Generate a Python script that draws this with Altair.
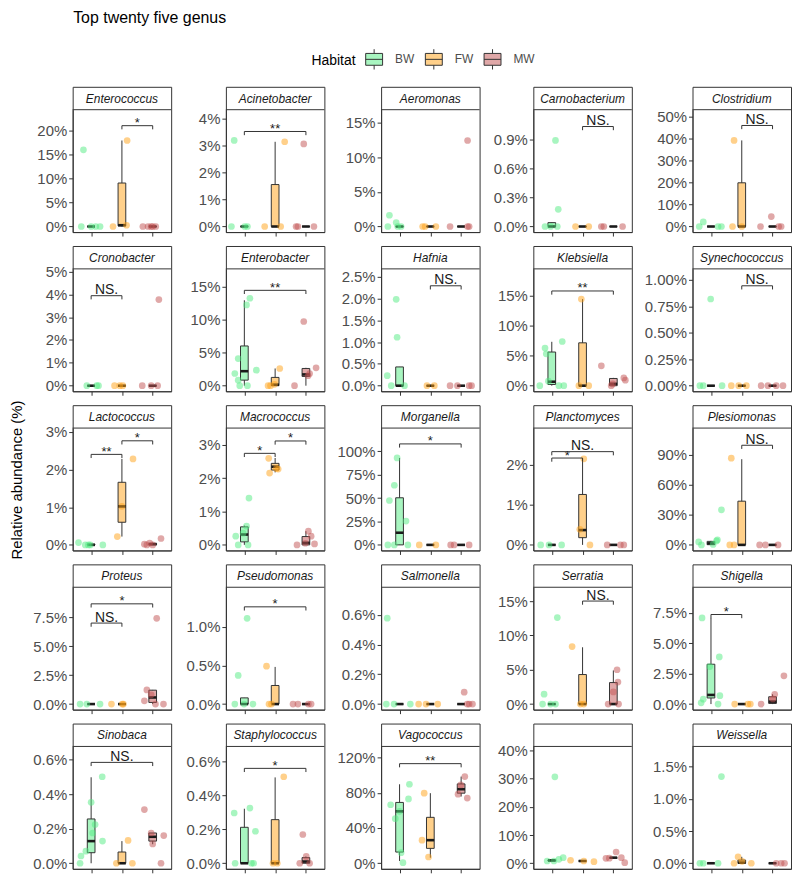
import altair as alt
import pandas as pd

HABITATS = ["BW", "FW", "MW"]
POINT_COLORS = ["#51EB81", "#FFA115", "#C15151"]
BOX_COLORS = ["#A8F5C0", "#FFD08A", "#E0A8A8"]

GENUS = ["Enterococcus", "Acinetobacter", "Aeromonas", "Carnobacterium", "Clostridium",
         "Cronobacter", "Enterobacter", "Hafnia", "Klebsiella", "Synechococcus",
         "Lactococcus", "Macrococcus", "Morganella", "Planctomyces", "Plesiomonas",
         "Proteus", "Pseudomonas", "Salmonella", "Serratia", "Shigella",
         "Sinobaca", "Staphylococcus", "Vagococcus", "", "Weissella"]

# upper end of each panel's data range (%)
Y_TOP = [23.28, 4.11, 16.06, 1.146, 50.65,
         4.87, 16.8, 2.55, 18.5, 1.05,
         2.95, 3.33, 119, 2.78, 111,
         9.6, 1.437, 0.747, 16.2, 9.13,
         0.643, 0.653, 126.2, 39.5, 1.727]

Y_TICKS = [[0, 5, 10, 15, 20], [0, 1, 2, 3, 4], [0, 5, 10, 15], [0, 0.3, 0.6, 0.9], [0, 10, 20, 30, 40, 50],
           [0, 1, 2, 3, 4, 5], [0, 5, 10, 15], [0, 0.5, 1, 1.5, 2, 2.5], [0, 5, 10, 15], [0, 0.25, 0.5, 0.75, 1],
           [0, 1, 2, 3], [0, 1, 2, 3], [0, 25, 50, 75, 100], [0, 1, 2], [0, 30, 60, 90],
           [0, 2.5, 5, 7.5], [0, 0.5, 1], [0, 0.2, 0.4, 0.6], [0, 5, 10, 15], [0, 2.5, 5, 7.5],
           [0, 0.2, 0.4, 0.6], [0, 0.2, 0.4, 0.6], [0, 40, 80, 120], [0, 10, 20, 30, 40], [0, 0.5, 1, 1.5]]

Y_DECIMALS = [0, 0, 0, 1, 0,
              0, 0, 1, 0, 2,
              0, 0, 0, 0, 0,
              1, 1, 1, 0, 1,
              1, 1, 0, 0, 1]

# samples: (habitat, relative abundance %, horizontal jitter)
PTS_ENTEROCOCCUS = [("BW", 16.05, -0.25), ("BW", 0, -0.32), ("BW", 0, 0.15), ("BW", 0, 0.29), ("BW", 0, 0.0),
                    ("FW", 0, -0.29), ("FW", 18.0, 0.17), ("FW", 0.27, 0.15),
                    ("MW", 0, -0.32), ("MW", 0, -0.15), ("MW", 0, -0.05), ("MW", 0, 0.1), ("MW", 0, 0.0)]
PTS_ACINETOBACTER = [("BW", 3.18, -0.33), ("BW", 0, -0.42), ("BW", 0, 0.01), ("BW", 0, 0.1),
                     ("FW", 0, -0.34), ("FW", 3.13, 0.31), ("FW", 0, 0.18),
                     ("MW", 3.05, -0.07), ("MW", 0, -0.32), ("MW", 0, -0.26), ("MW", 0, 0.26)]
PTS_AEROMONAS = [("BW", 1.62, -0.33), ("BW", 0.57, -0.11), ("BW", 0, -0.38), ("BW", 0, -0.06), ("BW", 0, 0.05),
                 ("FW", 0, -0.25), ("FW", 0, -0.17), ("FW", 0, 0.18),
                 ("MW", 0, -0.36), ("MW", 0, 0.21), ("MW", 0, 0.26), ("MW", 12.42, 0.21)]
PTS_CARNOBACTERIUM = [("BW", 0.887, 0.12), ("BW", 0.177, 0.21), ("BW", 0, -0.22), ("BW", 0, -0.04), ("BW", 0, 0.18),
                      ("FW", 0, -0.23), ("FW", 0, 0.2),
                      ("MW", 0, -0.39), ("MW", 0, -0.31), ("MW", 0, 0.3)]
PTS_CLOSTRIDIUM = [("BW", 2.1, -0.25), ("BW", 0, -0.38), ("BW", 0, 0.23), ("BW", 0, 0.34),
                   ("FW", 39.2, -0.25), ("FW", 0, -0.3), ("FW", 0, 0.0),
                   ("MW", 0, -0.39), ("MW", 4.5, -0.04), ("MW", 0, 0.28), ("MW", 0, 0.2)]
PTS_CRONOBACTER = [("BW", 0, -0.14), ("BW", 0, 0.18), ("BW", 0, 0.24),
                   ("FW", 0, -0.24), ("FW", 0, -0.07), ("FW", 0, 0.03),
                   ("MW", 0, -0.34), ("MW", 0, -0.05), ("MW", 0, 0.16), ("MW", 3.77, 0.2)]
PTS_ENTEROBACTER = [("BW", 13.2, 0.18), ("BW", 12.2, 0.07), ("BW", 4.1, -0.2), ("BW", 1.84, -0.31), ("BW", 0.84, -0.2),
                    ("BW", 2.34, 0.39), ("BW", 0, -0.15), ("BW", 0, 0.1),
                    ("FW", 2.6, 0.15), ("FW", 0, -0.23), ("FW", 0, -0.15), ("FW", 0.2, -0.02),
                    ("MW", 9.7, -0.07), ("MW", 2.7, 0.33), ("MW", 0, -0.37), ("MW", 1.5, 0.07), ("MW", 1.84, 0.12)]
PTS_HAFNIA = [("BW", 1.98, -0.11), ("BW", 1.11, -0.08), ("BW", 0.23, -0.4), ("BW", 0, -0.27), ("BW", 0, 0.16),
              ("FW", 0, -0.11), ("FW", 0, 0.13),
              ("MW", 0, -0.36), ("MW", 0, -0.12), ("MW", 0, 0.26), ("MW", 0, 0.34)]
PTS_KLEBSIELLA = [("BW", 6.26, -0.22), ("BW", 5.3, -0.18), ("BW", 7.35, 0.34), ("BW", 0, -0.39), ("BW", 0.76, -0.11),
                  ("BW", 0, 0.23), ("BW", 0, 0.39),
                  ("FW", 14.4, -0.04), ("FW", 0, -0.12), ("FW", 0, 0.2),
                  ("MW", 3.3, -0.39), ("MW", 1.3, 0.34), ("MW", 0.92, 0.39), ("MW", 0, -0.07), ("MW", 0.3, -0.02)]
PTS_SYNECHOCOCCUS = [("BW", 0.818, -0.01), ("BW", 0, -0.36), ("BW", 0, -0.25), ("BW", 0, 0.36),
                     ("FW", 0, -0.34), ("FW", 0, -0.1), ("FW", 0, 0.15),
                     ("MW", 0, -0.37), ("MW", 0, -0.15), ("MW", 0, 0.12), ("MW", 0, 0.34)]
PTS_LACTOCOCCUS = [("BW", 0.06, -0.41), ("BW", 0, -0.19), ("BW", 0, -0.09), ("BW", 0, -0.03), ("BW", 0, 0.38),
                   ("FW", 2.28, 0.36), ("FW", 0.22, -0.15), ("FW", 1.02, 0.0),
                   ("MW", 0.02, -0.27), ("MW", 0, -0.19), ("MW", 0, 0.0), ("MW", 0.17, 0.27), ("MW", 0.05, -0.1)]
PTS_MACROCOCCUS = [("BW", 1.4, 0.15), ("BW", 0.26, -0.28), ("BW", 0.56, 0.07), ("BW", 0, -0.2), ("BW", 0, 0.12),
                   ("BW", 0.35, -0.04),
                   ("FW", 2.59, -0.21), ("FW", 2.15, -0.18), ("FW", 2.29, 0.04), ("FW", 2.27, 0.1),
                   ("MW", 0, -0.29), ("MW", 0.41, 0.08), ("MW", 0.26, 0.17), ("MW", 0.03, 0.28), ("MW", 0.05, -0.02)]
PTS_MORGANELLA = [("BW", 93, -0.08), ("BW", 47.5, -0.33), ("BW", 63.8, -0.17), ("BW", 25.5, 0.21), ("BW", 0, -0.38),
                  ("BW", 0, -0.17), ("BW", 0, 0.27),
                  ("FW", 0, -0.36), ("FW", 0, 0.18),
                  ("MW", 0, -0.34), ("MW", 0, -0.23), ("MW", 0, 0.26)]
PTS_PLANCTOMYCES = [("BW", 0, -0.36), ("BW", 0, -0.09), ("BW", 0, 0.32),
                    ("FW", 2.15, 0.04), ("FW", 0.39, -0.09), ("FW", 0, 0.24),
                    ("MW", 0, -0.2), ("MW", 0, 0.34), ("MW", 0, 0.23)]
PTS_PLESIOMONAS = [("BW", 35, 0.34), ("BW", 4, 0.18), ("BW", 3, -0.4), ("BW", 0, -0.31), ("BW", 0.5, 0.07), ("BW", 5, 0.21),
                   ("FW", 86.5, -0.34), ("FW", 0, -0.39), ("FW", 0, -0.25),
                   ("MW", 0, -0.42), ("MW", 0, -0.23), ("MW", 0, 0.18)]
PTS_PROTEUS = [("BW", 0, -0.36), ("BW", 0, -0.14), ("BW", 0, 0.29),
               ("FW", 0, -0.34), ("FW", 0, 0.01), ("FW", 0, 0.05),
               ("MW", 7.4, 0.13), ("MW", 1.22, -0.19), ("MW", 0.28, -0.27), ("MW", 0, 0.09), ("MW", 0, 0.35),
               ("MW", 0.8, -0.05)]
PTS_PSEUDOMONAS = [("BW", 1.107, 0.09), ("BW", 0.37, -0.2), ("BW", 0, -0.31), ("BW", 0, -0.01), ("BW", 0, 0.28),
                   ("FW", 0.49, -0.28), ("FW", 0, -0.12), ("FW", 0, -0.2),
                   ("MW", 0, -0.42), ("MW", 0, -0.26), ("MW", 0, 0.08), ("MW", 0, 0.17)]
PTS_SALMONELLA = [("BW", 0.577, -0.4), ("BW", 0, -0.43), ("BW", 0, -0.18), ("BW", 0, 0.35),
                  ("FW", 0, -0.38), ("FW", 0, -0.14), ("FW", 0, 0.24),
                  ("MW", 0.08, 0.1), ("MW", 0, 0.26), ("MW", 0, 0.37), ("MW", 0, 0.2)]
PTS_SERRATIA = [("BW", 12.6, 0.18), ("BW", 1.44, -0.25), ("BW", 0, -0.3), ("BW", 0, -0.04), ("BW", 0, 0.12),
                ("FW", 8.37, -0.34), ("FW", 0, -0.07), ("FW", 0, 0.04),
                ("MW", 5.0, 0.12), ("MW", 3.2, 0.15), ("MW", 0, -0.17), ("MW", 0, 0.17), ("MW", 1.77, 0.0)]
PTS_SHIGELLA = [("BW", 7.07, -0.29), ("BW", 3.87, 0.27), ("BW", 3.08, -0.04), ("BW", 0.69, 0.29), ("BW", 0.4, -0.25),
                ("BW", 0, 0.23), ("BW", 0.1, -0.32),
                ("FW", 0, -0.23), ("FW", 0, 0.2), ("FW", 0, 0.28),
                ("MW", 2.32, 0.37), ("MW", 0, -0.37), ("MW", 0.42, 0.01), ("MW", 0.8, 0.07)]
PTS_SINOBACA = [("BW", 0.5, 0.36), ("BW", 0.352, 0.0), ("BW", 0.224, 0.13), ("BW", 0.128, 0.37), ("BW", 0.042, -0.33),
                ("BW", 0.07, -0.17), ("BW", 0, -0.36), ("BW", 0.175, 0.05),
                ("FW", 0.132, 0.2), ("FW", 0, -0.18), ("FW", 0, 0.34),
                ("MW", 0.31, -0.27), ("MW", 0.16, 0.36), ("MW", 0.112, 0.0), ("MW", 0, 0.27), ("MW", 0.175, -0.05)]
PTS_STAPHYLOCOCCUS = [("BW", 0.295, -0.33), ("BW", 0.324, 0.18), ("BW", 0.188, 0.36), ("BW", 0, -0.3), ("BW", 0, 0.23),
                      ("BW", 0, 0.3),
                      ("FW", 0.508, 0.28), ("FW", 0, -0.07), ("FW", 0, 0.07),
                      ("MW", 0.169, -0.1), ("MW", 0, -0.2), ("MW", 0.04, 0.01), ("MW", 0, 0.12)]
PTS_VAGOCOCCUS = [("BW", 89.6, 0.32), ("BW", 73, 0.29), ("BW", 66.4, -0.29), ("BW", 50.6, -0.14), ("BW", 12, 0.05),
                  ("BW", 0.7, 0.11), ("BW", 58.9, 0.0),
                  ("FW", 79.5, -0.2), ("FW", 26.2, -0.27), ("FW", 7.1, -0.06),
                  ("MW", 98.3, 0.12), ("MW", 73.9, 0.2), ("MW", 78.4, -0.1), ("MW", 88.9, -0.01)]
PTS_UNNAMED = [("BW", 30.7, 0.1), ("BW", 0.8, -0.15), ("BW", 0.8, 0.07), ("BW", 1.4, 0.23), ("BW", 2.0, 0.37),
               ("FW", 1.06, -0.39), ("FW", 0.56, 0.37), ("FW", 0.8, 0.04),
               ("MW", 4.0, 0.09), ("MW", 2.0, 0.26), ("MW", 1.76, -0.24), ("MW", 0.2, 0.37), ("MW", 1.8, -0.13)]
PTS_WEISSELLA = [("BW", 1.345, 0.34), ("BW", 0, -0.36), ("BW", 0, -0.25), ("BW", 0, 0.23),
                 ("FW", 0.1, -0.12), ("FW", 0, -0.25), ("FW", 0, 0.31), ("FW", 0.03, 0.01),
                 ("MW", 0, 0.12), ("MW", 0, 0.28), ("MW", 0, 0.39)]

POINTS = [PTS_ENTEROCOCCUS, PTS_ACINETOBACTER, PTS_AEROMONAS, PTS_CARNOBACTERIUM, PTS_CLOSTRIDIUM,
          PTS_CRONOBACTER, PTS_ENTEROBACTER, PTS_HAFNIA, PTS_KLEBSIELLA, PTS_SYNECHOCOCCUS,
          PTS_LACTOCOCCUS, PTS_MACROCOCCUS, PTS_MORGANELLA, PTS_PLANCTOMYCES, PTS_PLESIOMONAS,
          PTS_PROTEUS, PTS_PSEUDOMONAS, PTS_SALMONELLA, PTS_SERRATIA, PTS_SHIGELLA,
          PTS_SINOBACA, PTS_STAPHYLOCOCCUS, PTS_VAGOCOCCUS, PTS_UNNAMED, PTS_WEISSELLA]

ZERO = (0, 0, 0, 0, 0)
# box statistics per panel: BW, FW, MW -> (lower whisker, q1, median, q3, upper whisker)
BOXES = [
    [ZERO, (0, 0.13, 0.27, 9.1, 18.0), ZERO],
    [ZERO, (0, 0, 0, 1.55, 3.13), ZERO],
    [ZERO, ZERO, ZERO],
    [(0, 0, 0, 0.04, 0.04), ZERO, ZERO],
    [ZERO, (0, 0, 0, 19.9, 39.2), ZERO],
    [ZERO, ZERO, ZERO],
    [(0, 0.84, 2.19, 6.0, 12.9), (0, 0, 0.15, 1.25, 2.6), (0, 1.4, 1.7, 2.6, 2.7)],
    [(0, 0, 0, 0.43, 0.43), ZERO, ZERO],
    [(0, 0.2, 0.66, 5.6, 7.3), (0, 0, 0, 7.13, 14.4), (0, 0, 0.3, 1.2, 1.3)],
    [ZERO, ZERO, ZERO],
    [(0, 0, 0, 0.02, 0.02), (0.22, 0.6, 1.02, 1.66, 2.28), (0, 0, 0.02, 0.04, 0.06)],
    [(0, 0.09, 0.31, 0.54, 0.58), (2.17, 2.24, 2.34, 2.44, 2.6), (0, 0, 0.06, 0.25, 0.41)],
    [(0, 0, 13, 50.4, 93), ZERO, ZERO],
    [ZERO, (0, 0.18, 0.37, 1.26, 2.15), ZERO],
    [(0, 0.2, 1.5, 3.5, 4), (0, 0, 0, 43.6, 85.5), ZERO],
    [ZERO, ZERO, (0, 0.14, 0.57, 1.2, 1.22)],
    [(0, 0, 0, 0.08, 0.08), (0, 0, 0, 0.24, 0.48), ZERO],
    [ZERO, ZERO, ZERO],
    [ZERO, (0, 0, 0, 4.3, 8.27), (0, 0, 0, 3.13, 4.9)],
    [(0, 0.5, 0.75, 3.27, 7.07), ZERO, (0, 0.05, 0.2, 0.6, 0.8)],
    [(0, 0.061, 0.128, 0.256, 0.497), (0, 0, 0, 0.065, 0.128), (0.11, 0.128, 0.153, 0.175, 0.175)],
    [(0, 0, 0, 0.211, 0.32), (0, 0, 0, 0.256, 0.504), (0, 0, 0.01, 0.033, 0.04)],
    [(2.6, 12.7, 58.9, 69, 89.6), (6.3, 16.9, 26.2, 52.1, 79.5), (75.7, 79.5, 84, 90, 98.3)],
    [(0.8, 0.8, 1.0, 1.2, 1.4), (0.56, 0.7, 0.8, 0.9, 1.06), (1.76, 1.8, 2.0, 2.0, 2.0)],
    [ZERO, (0, 0, 0.01, 0.05, 0.1), ZERO],
]

# significance brackets: (panel, from group, to group, height %, label)
BRACKETS = [
    (0, 2, 3, 21.1, "*"),
    (1, 1, 3, 3.51, "**"),
    (3, 2, 3, 1.03, "NS."),
    (4, 2, 3, 46, "NS."),
    (5, 1, 2, 3.94, "NS."),
    (6, 1, 3, 14.4, "**"),
    (7, 2, 3, 2.29, "NS."),
    (8, 1, 3, 15.75, "**"),
    (9, 2, 3, 0.943, "NS."),
    (10, 1, 2, 2.4, "**"),
    (10, 2, 3, 2.76, "*"),
    (11, 1, 2, 2.74, "*"),
    (11, 2, 3, 3.11, "*"),
    (12, 1, 3, 108, "*"),
    (13, 1, 2, 2.17, "*"),
    (13, 1, 3, 2.33, "NS."),
    (14, 2, 3, 99.4, "NS."),
    (15, 1, 3, 8.65, "*"),
    (15, 1, 2, 6.99, "NS."),
    (16, 1, 3, 1.256, "*"),
    (18, 2, 3, 15, "NS."),
    (19, 1, 2, 7.35, "*"),
    (20, 1, 3, 0.583, "NS."),
    (21, 1, 3, 0.557, "*"),
    (22, 1, 3, 113, "**"),
]

# ---------------- layout / style ----------------
FONT = "Liberation Sans, Arial, sans-serif"
W = 99
H = 146
STRIP = 23
COL_EXT = [42, 44.6, 47.3, 44.4, 51.5]
BOX_HW = 0.125
TIP = 0.03

fill_scale = alt.Scale(domain=HABITATS, range=BOX_COLORS)
color_scale = alt.Scale(domain=HABITATS, range=POINT_COLORS)
one = pd.DataFrame({"a": [0]})


def panel(i):
    top = Y_TOP[i]
    dom = [-0.05 * top, 1.05 * top]
    span = dom[1] - dom[0]
    dec = Y_DECIMALS[i]
    col = i % 5
    ysc = alt.Scale(domain=dom, range=[H, STRIP], nice=False, zero=False)
    yax = alt.Axis(values=Y_TICKS[i], labelExpr=f"format(datum.value, '.{dec}f') + '%'",
                   title=None, grid=False, tickSize=4, labelFontSize=15, labelColor="#4D4D4D",
                   tickColor="#333333", domainColor="#333333", labelPadding=2,
                   minExtent=COL_EXT[col], maxExtent=COL_EXT[col], labelFont=FONT)
    xsc = alt.Scale(domain=[0.4, 3.6], nice=False, zero=False)
    xax = alt.Axis(values=[1, 2, 3], labels=False, title=None, grid=False, tickSize=4,
                   tickColor="#333333", domainColor="#333333")

    def X(f):
        return alt.X(f, type="quantitative", scale=xsc, axis=xax)

    def Y(f):
        return alt.Y(f, type="quantitative", scale=ysc, axis=yax)

    pts = pd.DataFrame(POINTS[i], columns=["hab", "val", "jit"])
    pts["xp"] = pts["hab"].map(lambda h: HABITATS.index(h) + 1) + pts["jit"]

    rows = []
    for k, h in enumerate(HABITATS):
        lo, q1, med, q3, hi = BOXES[i][k]
        rows.append({"hab": h, "g": k + 1, "xl": k + 1 - BOX_HW, "xr": k + 1 + BOX_HW,
                     "lo": lo, "q1": q1, "med": med, "q3": q3, "hi": hi})
    bx = pd.DataFrame(rows)

    layers = [
        alt.Chart(bx).mark_rule(color="#333333", strokeWidth=1).encode(x=X("g"), y=Y("lo"), y2="hi"),
        alt.Chart(bx).mark_rect(stroke="#333333", strokeWidth=1).encode(
            x=X("xl"), x2="xr", y=Y("q1"), y2="q3",
            fill=alt.Fill("hab:N", scale=fill_scale, legend=alt.Legend(title="Habitat"))),
        alt.Chart(bx).mark_rule(color="#1a1a1a", strokeWidth=2.6).encode(x=X("xl"), x2="xr", y=Y("med")),
        alt.Chart(pts).mark_circle(size=45, opacity=0.5).encode(
            x=X("xp"), y=Y("val"), color=alt.Color("hab:N", scale=color_scale, legend=None)),
    ]

    br = [b for b in BRACKETS if b[0] == i]
    if br:
        bdf = pd.DataFrame([{"x1": b[1], "x2": b[2], "xm": (b[1] + b[2]) / 2, "y": b[3],
                             "ytip": b[3] - TIP * span, "label": b[4]} for b in br])
        layers += [
            alt.Chart(bdf).mark_rule(color="#333333", strokeWidth=1).encode(x=X("x1"), x2="x2", y=Y("y")),
            alt.Chart(bdf).mark_rule(color="#333333", strokeWidth=1).encode(x=X("x1"), y=Y("y"), y2="ytip"),
            alt.Chart(bdf).mark_rule(color="#333333", strokeWidth=1).encode(x=X("x2"), y=Y("y"), y2="ytip"),
        ]
        stars = bdf[bdf["label"] != "NS."]
        ns = bdf[bdf["label"] == "NS."]
        if len(stars):
            layers.append(alt.Chart(stars).mark_text(baseline="alphabetic", dy=1.5, fontSize=13,
                                                     color="#1a1a1a", font=FONT).encode(
                x=X("xm"), y=Y("y"), text="label:N"))
        if len(ns):
            layers.append(alt.Chart(ns).mark_text(baseline="alphabetic", dy=-1.5, fontSize=14,
                                                  color="#1a1a1a", font=FONT).encode(
                x=X("xm"), y=Y("y"), text="label:N"))

    layers += [
        alt.Chart(one).mark_rule(color="#333333", strokeWidth=1).encode(
            x=alt.value(0), x2=alt.value(W), y=alt.value(STRIP)),
        alt.Chart(one).mark_text(fontStyle="italic", fontSize=12, color="#1a1a1a", font=FONT,
                                 baseline="middle", align="center").encode(
            x=alt.value(W / 2), y=alt.value(STRIP / 2 + 0.5), text=alt.value(GENUS[i])),
    ]
    return alt.layer(*layers).properties(width=W, height=H)


panels = [panel(i) for i in range(25)]

grid = alt.concat(
    *panels, columns=5, align="each",
    spacing=alt.RowColnumber(row=8, column=8),
    title=alt.TitleParams("Relative abundance (%)", orient="left", anchor="middle",
                          fontSize=15, fontWeight="normal", color="black", font=FONT, offset=5),
)

chart = alt.vconcat(
    grid,
    title=alt.TitleParams("Top twenty five genus", anchor="start", fontSize=16, fontWeight="normal",
                          color="black", font=FONT, dx=63, offset=24),
).properties(padding={"left": 2, "top": 0, "right": 0, "bottom": 0}).configure_view(
    stroke="#333333", strokeWidth=1
).configure_legend(
    orient="none", legendX=240, legendY=-37, direction="horizontal",
    titleOrient="left", titleFontSize=14, titleFontWeight="normal", titleColor="black", titleFont=FONT,
    labelFontSize=12, labelColor="#4D4D4D", labelFont=FONT, labelOffset=12,
    symbolType="M-1,-0.7H1V0.7H-1Z M-1,0H1 M0,-0.7V-1.2 M0,0.7V1.2",
    symbolSize=289, symbolStrokeColor="#333333", symbolStrokeWidth=1,
    columnPadding=8, titlePadding=9,
).configure_axis(labelFont=FONT)

chart.save("out.html", embed_options={"renderer": "svg", "actions": False})
